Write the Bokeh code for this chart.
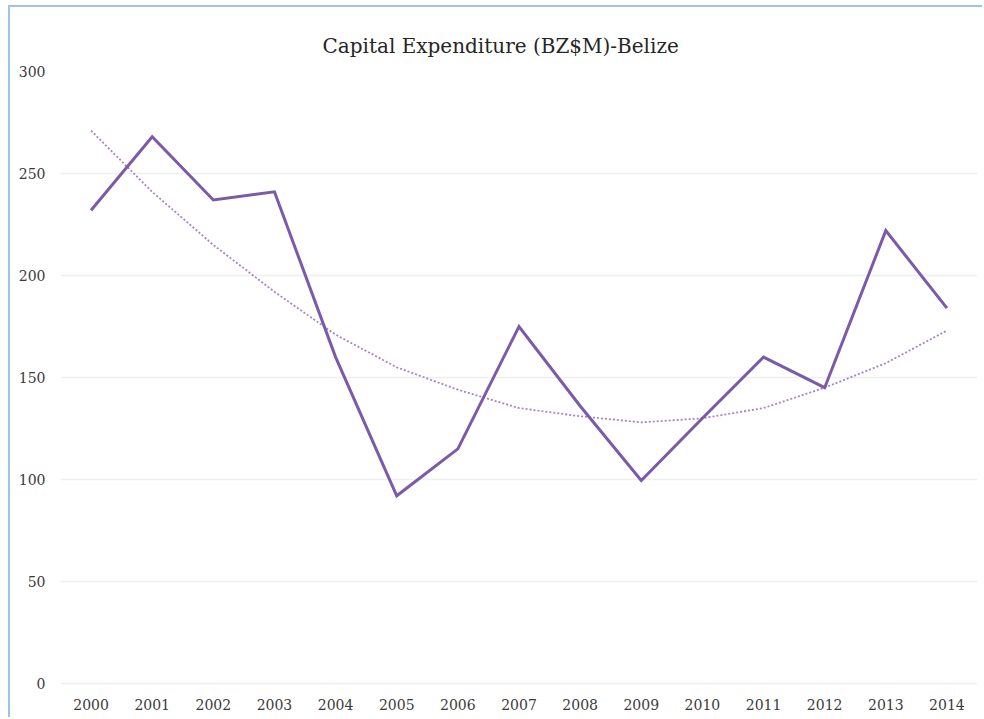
from bokeh.plotting import figure
from bokeh.models import Range1d, FixedTicker
from bokeh.embed import file_html
from bokeh.resources import INLINE

years = ["2000", "2001", "2002", "2003", "2004", "2005", "2006", "2007",
         "2008", "2009", "2010", "2011", "2012", "2013", "2014"]
capex = [232, 268, 237, 241, 160, 92, 115, 175, 136, 99.5, 130, 160, 145, 222, 184]
# polynomial trendline values at each year
trend = [271, 241, 215, 192, 171, 155, 144, 135, 131, 128, 130, 135, 145, 157, 173]
y_ticks = [0, 50, 100, 150, 200, 250, 300]

xi = list(range(len(years)))

p = figure(width=974, height=712, output_backend="svg", toolbar_location=None,
           x_range=Range1d(-0.5, len(years) - 0.5), y_range=Range1d(-1, 300),
           min_border_left=50, min_border_right=7, min_border_top=64, min_border_bottom=34,
           title="Capital Expenditure (BZ$M)-Belize")
p.styles = {"margin-left": "8px", "margin-top": "5px",
            "border-top": "2px solid #9dc3e6", "border-left": "2px solid #9dc3e6"}
p.title.align = "left"
p.title.offset = 262
p.title.standoff = 27
p.title.text_font = "DejaVu Serif"
p.title.text_font_size = "20px"
p.title.text_font_style = "normal"
p.title.text_color = "#262626"

p.outline_line_color = None
p.xgrid.grid_line_color = None
p.ygrid.grid_line_color = "#eef0ee"
p.ygrid.grid_line_width = 1.5
p.yaxis.ticker = FixedTicker(ticks=y_ticks)
p.xaxis.ticker = FixedTicker(ticks=xi)
p.xaxis.major_label_overrides = {i: y for i, y in enumerate(years)}
for ax in (p.xaxis[0], p.yaxis[0]):
    ax.axis_line_color = None
    ax.major_tick_line_color = None
    ax.minor_tick_line_color = None
    ax.major_tick_out = 0
    ax.minor_tick_out = 0
    ax.major_label_text_font = "DejaVu Serif"
    ax.major_label_text_font_size = "14px"
    ax.major_label_text_color = "#3a3a3a"
p.yaxis.major_label_standoff = 15
p.xaxis.major_label_standoff = 13

p.line(xi, trend, line_color="#a584cc", line_width=1.8, line_dash="2 2")
p.line(xi, capex, line_color="#7b5aa8", line_width=3, line_join="miter")

open("out.html", "w").write(file_html(p, INLINE))
